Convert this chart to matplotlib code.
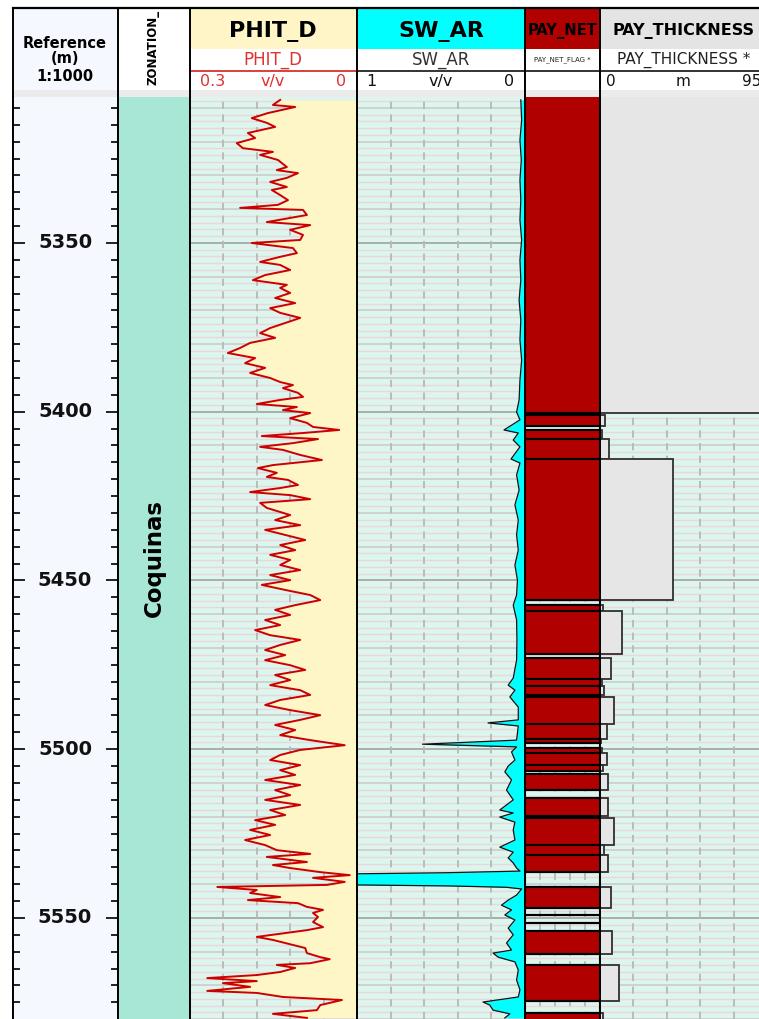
import numpy as np
import matplotlib
matplotlib.use("Agg")
import matplotlib.pyplot as plt
from matplotlib.patches import Rectangle

plt.rcParams['font.family'] = ['DejaVu Sans']

# ---------------- log data ----------------
phit_depth = [5307.6, 5309.1, 5309.7, 5311.5, 5313.0, 5314.4, 5315.6, 5317.4, 5318.9, 5320.4,
              5321.9, 5323.0, 5323.9, 5325.4, 5327.5, 5328.4, 5329.3, 5330.7, 5331.9, 5333.4,
              5334.3, 5335.8, 5337.3, 5338.7, 5339.6, 5340.2, 5341.7, 5343.8, 5344.7, 5346.1,
              5347.6, 5349.1, 5350.0, 5351.5, 5353.0, 5354.1, 5355.6, 5356.5, 5358.0, 5359.5,
              5361.0, 5362.4, 5363.3, 5364.8, 5366.3, 5367.8, 5369.3, 5370.7, 5372.2, 5373.7,
              5375.2, 5376.7, 5378.1, 5379.6, 5381.1, 5382.6, 5384.1, 5385.6, 5387.0, 5388.5,
              5390.0, 5391.2, 5392.1, 5393.0, 5394.4, 5395.6, 5396.5, 5397.7, 5398.6, 5399.5,
              5400.4, 5401.9, 5403.3, 5404.5, 5405.4, 5406.3, 5407.2, 5408.1, 5409.3, 5410.4,
              5411.3, 5412.8, 5414.3, 5415.8, 5416.7, 5418.1, 5419.3, 5420.2, 5421.7, 5422.6,
              5423.8, 5424.7, 5425.9, 5427.0, 5428.5, 5430.6, 5432.1, 5433.6, 5435.0, 5436.5,
              5438.0, 5439.5, 5441.0, 5442.4, 5443.9, 5445.4, 5446.9, 5448.4, 5449.9, 5451.3,
              5452.8, 5454.3, 5455.8, 5457.3, 5458.7, 5460.2, 5461.7, 5463.2, 5464.7, 5466.2,
              5467.6, 5469.1, 5470.6, 5472.1, 5473.6, 5475.1, 5476.5, 5478.0, 5479.5, 5481.0,
              5482.5, 5483.9, 5485.4, 5486.9, 5488.4, 5489.9, 5491.3, 5492.8, 5494.3, 5495.8,
              5497.3, 5498.8, 5500.2, 5501.7, 5503.2, 5504.7, 5506.2, 5507.6, 5509.1, 5510.6,
              5512.1, 5513.6, 5515.0, 5516.5, 5518.0, 5519.5, 5521.0, 5522.4, 5523.9, 5525.4,
              5526.9, 5528.4, 5529.9, 5531.0, 5531.9, 5533.4, 5534.3, 5535.2, 5536.4, 5537.3,
              5538.1, 5539.3, 5540.2, 5540.8, 5541.7, 5542.6, 5543.8, 5544.7, 5545.6, 5546.7,
              5547.6, 5548.5, 5549.7, 5551.2, 5552.7, 5553.6, 5554.4, 5555.6, 5556.5, 5558.0,
              5558.9, 5560.4, 5561.6, 5562.2, 5563.4, 5563.9, 5564.8, 5566.0, 5566.9, 5567.8,
              5568.7, 5569.3, 5570.4, 5571.6, 5572.2, 5573.4, 5574.3, 5575.8, 5577.3, 5578.4,
              5579.6]
phit = [0.138, 0.151, 0.111, 0.160, 0.189, 0.162, 0.147, 0.196, 0.183, 0.216,
        0.205, 0.151, 0.174, 0.142, 0.126, 0.144, 0.106, 0.126, 0.156, 0.126,
        0.153, 0.138, 0.124, 0.142, 0.210, 0.097, 0.090, 0.162, 0.084, 0.120,
        0.097, 0.102, 0.189, 0.115, 0.108, 0.138, 0.174, 0.138, 0.120, 0.165,
        0.187, 0.126, 0.138, 0.120, 0.147, 0.111, 0.156, 0.138, 0.102, 0.129,
        0.156, 0.174, 0.147, 0.192, 0.210, 0.232, 0.183, 0.201, 0.165, 0.192,
        0.156, 0.138, 0.115, 0.133, 0.106, 0.097, 0.138, 0.180, 0.108, 0.133,
        0.084, 0.120, 0.090, 0.079, 0.032, 0.097, 0.171, 0.070, 0.115, 0.174,
        0.133, 0.102, 0.063, 0.151, 0.178, 0.144, 0.162, 0.124, 0.106, 0.138,
        0.192, 0.120, 0.084, 0.174, 0.162, 0.120, 0.147, 0.102, 0.165, 0.129,
        0.093, 0.138, 0.111, 0.156, 0.120, 0.138, 0.102, 0.156, 0.120, 0.171,
        0.129, 0.084, 0.066, 0.111, 0.147, 0.120, 0.165, 0.138, 0.183, 0.156,
        0.102, 0.138, 0.165, 0.129, 0.165, 0.120, 0.093, 0.147, 0.120, 0.156,
        0.102, 0.084, 0.138, 0.165, 0.120, 0.066, 0.102, 0.147, 0.111, 0.138,
        0.084, 0.022, 0.102, 0.138, 0.156, 0.102, 0.138, 0.111, 0.165, 0.102,
        0.147, 0.120, 0.165, 0.102, 0.156, 0.129, 0.183, 0.147, 0.192, 0.156,
        0.201, 0.165, 0.144, 0.084, 0.162, 0.090, 0.151, 0.120, 0.066, 0.013,
        0.079, 0.022, 0.054, 0.251, 0.180, 0.192, 0.138, 0.196, 0.106, 0.090,
        0.061, 0.079, 0.070, 0.079, 0.061, 0.090, 0.126, 0.180, 0.151, 0.115,
        0.093, 0.090, 0.066, 0.049, 0.084, 0.144, 0.111, 0.138, 0.180, 0.269,
        0.180, 0.241, 0.192, 0.269, 0.180, 0.133, 0.027, 0.066, 0.072, 0.151,
        0.090]

sw_depth = [5307.6, 5313.6, 5319.5, 5325.4, 5331.3, 5337.3, 5343.2, 5349.1, 5355.0, 5361.0,
            5366.9, 5372.8, 5378.7, 5384.7, 5390.6, 5396.5, 5400.1, 5402.4, 5405.4, 5406.3,
            5408.4, 5410.4, 5414.0, 5415.2, 5418.7, 5423.2, 5427.6, 5432.1, 5436.5, 5441.0,
            5445.4, 5449.9, 5454.3, 5457.3, 5461.7, 5467.6, 5473.6, 5478.9, 5481.0, 5482.5,
            5484.5, 5487.5, 5491.3, 5492.2, 5493.1, 5497.3, 5498.5, 5499.3, 5500.8, 5503.2,
            5505.0, 5506.7, 5509.1, 5512.1, 5515.0, 5518.0, 5518.9, 5520.1, 5521.6, 5523.9,
            5526.9, 5529.0, 5530.5, 5532.2, 5533.7, 5535.2, 5536.1, 5536.6, 5536.9, 5540.2,
            5540.5, 5540.9, 5541.4, 5543.2, 5544.7, 5546.2, 5547.6, 5549.1, 5550.6, 5553.0,
            5555.0, 5557.4, 5559.5, 5560.4, 5561.6, 5563.0, 5565.4, 5568.4, 5571.3, 5573.4,
            5574.9, 5575.8, 5577.3, 5578.4, 5579.6]
sw = [0.025, 0.020, 0.030, 0.022, 0.030, 0.025, 0.030, 0.020, 0.030, 0.025,
      0.035, 0.025, 0.030, 0.020, 0.030, 0.035, 0.050, 0.030, 0.125, 0.040,
      0.070, 0.030, 0.083, 0.030, 0.050, 0.035, 0.060, 0.040, 0.050, 0.040,
      0.060, 0.045, 0.050, 0.070, 0.050, 0.048, 0.050, 0.070, 0.100, 0.060,
      0.090, 0.040, 0.040, 0.220, 0.040, 0.050, 0.610, 0.050, 0.080, 0.060,
      0.100, 0.120, 0.080, 0.110, 0.070, 0.150, 0.070, 0.150, 0.060, 0.070,
      0.060, 0.150, 0.070, 0.100, 0.070, 0.050, 0.030, 0.480, 1.000, 1.000,
      0.450, 0.110, 0.020, 0.050, 0.100, 0.140, 0.080, 0.120, 0.060, 0.100,
      0.070, 0.110, 0.080, 0.190, 0.160, 0.060, 0.040, 0.050, 0.030, 0.040,
      0.250, 0.210, 0.190, 0.090, 0.120]

pay_top = [5300.0, 5401.1, 5404.1, 5405.4, 5408.0, 5414.1, 5455.8, 5457.3, 5459.0, 5471.8,
           5473.0, 5479.3, 5481.3, 5483.9, 5484.4, 5492.5, 5497.1, 5498.2, 5499.6, 5501.1,
           5504.7, 5506.4, 5507.4, 5512.1, 5514.5, 5519.8, 5520.5, 5528.4, 5531.3, 5536.3,
           5540.9, 5547.1, 5549.1, 5551.5, 5553.9, 5560.7, 5563.9, 5574.5, 5578.2]
pay_base = [5400.5, 5404.1, 5405.4, 5408.0, 5414.1, 5455.8, 5457.3, 5459.0, 5471.8, 5473.0,
            5479.3, 5481.3, 5483.9, 5484.4, 5492.5, 5497.1, 5498.2, 5499.6, 5501.1, 5504.7,
            5506.4, 5507.4, 5512.1, 5514.5, 5519.8, 5520.5, 5528.4, 5531.3, 5536.3, 5540.9,
            5547.1, 5549.1, 5551.5, 5553.9, 5560.7, 5563.9, 5574.5, 5578.2, 5585.0]
pay_flag = [1, 1, 0, 1, 1, 1, 0, 1, 1, 0,
            1, 1, 1, 0, 1, 1, 1, 0, 1, 1,
            1, 0, 1, 0, 1, 0, 1, 1, 1, 0,
            1, 0, 0, 0, 1, 0, 1, 0, 1]
pay_thickness = [95.0, 3.0, 0.0, 1.4, 5.3, 41.5, 0.0, 1.5, 12.7, 0.0,
                 6.3, 1.0, 2.5, 0.0, 8.0, 4.2, 0.8, 0.0, 1.0, 3.7,
                 1.5, 0.0, 4.7, 0.0, 4.7, 0.0, 8.0, 2.3, 4.7, 0.0,
                 6.2, 0.0, 0.0, 0.0, 6.8, 0.0, 10.6, 0.0, 1.5]

zone_name = "Coquinas"
depth_labels = [5350, 5400, 5450, 5500, 5550]

# ---------------- layout (pixels) ----------------
W, H = 759, 1019
fig = plt.figure(figsize=(W / 100, H / 100), dpi=100)
fig.patch.set_facecolor('white')

D_TOP = 5350 - 146 / 3.375
D_BOT = 5350 + 776 / 3.375
Y_TRACK = 97

X_REF = (13, 118)
X_ZONE = (118, 190)
X_PHIT = (190, 357)
X_SW = (357, 525)
X_PAY = (525, 600)
X_THK = (600, 767)

MINT = '#dcf5ed'


def px_axes(x0, y0, x1, y1, **kw):
    return fig.add_axes([x0 / W, 1 - y1 / H, (x1 - x0) / W, (y1 - y0) / H], **kw)


# header / background canvas
bg = px_axes(0, 0, W, H)
bg.set_xlim(0, W)
bg.set_ylim(H, 0)
bg.axis('off')


def cell(x0, x1, y0, y1, color):
    bg.add_patch(Rectangle((x0, y0), x1 - x0, y1 - y0, facecolor=color, edgecolor='none'))


# title row backgrounds
cell(*X_REF, 8, 90, '#f5f8fe')
cell(*X_PHIT, 8, 49, '#fff5c6')
cell(*X_SW, 8, 49, '#00ffff')
cell(*X_PAY, 8, 49, '#b00000')
cell(X_THK[0], W, 8, 49, '#e4e4e4')
cell(13, W, 90, 97, '#ebebeb')

# header lines
bg.plot([13, W], [8, 8], color='black', lw=1.6)
bg.plot([X_PHIT[0], X_PHIT[1]], [70.5, 70.5], color='#d84040', lw=1.4)
bg.plot([X_SW[0], W], [70.5, 70.5], color='#333333', lw=1.4)
for xv in (13, 118, 190, 357, 525, 600):
    bg.plot([xv, xv], [8, H], color='black', lw=1.4, zorder=5)

# header texts
bg.text(65, 43, 'Reference', ha='center', va='center', fontsize=10.5, fontweight='bold')
bg.text(65, 58, '(m)', ha='center', va='center', fontsize=10.5, fontweight='bold')
bg.text(65, 76, '1:1000', ha='center', va='center', fontsize=10.5, fontweight='bold')
zt = bg.text(153, 47, 'ZONATION_', ha='center', va='center', fontsize=8.5, fontweight='bold',
             rotation=90)
zt.set_clip_path(Rectangle((118, 8), 72, 82, transform=bg.transData))

bg.text(273, 31, 'PHIT_D', ha='center', va='center', fontsize=16, fontweight='bold')
bg.text(273, 60, 'PHIT_D', ha='center', va='center', fontsize=12, color='#e03030')
bg.text(200, 81, '0.3', ha='left', va='center', fontsize=11.5, color='#e03030')
bg.text(273, 81, 'v/v', ha='center', va='center', fontsize=11.5, color='#e03030')
bg.text(346, 81, '0', ha='right', va='center', fontsize=11.5, color='#e03030')

bg.text(441, 31, 'SW_AR', ha='center', va='center', fontsize=16, fontweight='bold')
bg.text(441, 60, 'SW_AR', ha='center', va='center', fontsize=12, color='#333333')
bg.text(366, 81, '1', ha='left', va='center', fontsize=11.5, color='#111111')
bg.text(441, 81, 'v/v', ha='center', va='center', fontsize=11.5, color='#111111')
bg.text(514, 81, '0', ha='right', va='center', fontsize=11.5, color='#111111')

bg.text(562.5, 31, 'PAY_NET', ha='center', va='center', fontsize=10.5, fontweight='bold')
bg.text(562.5, 60, 'PAY_NET_FLAG *', ha='center', va='center', fontsize=5, color='#222222')

bg.text(683.5, 31, 'PAY_THICKNESS', ha='center', va='center', fontsize=11.5, fontweight='bold')
bg.text(683.5, 60, 'PAY_THICKNESS *', ha='center', va='center', fontsize=11, color='#222222')
bg.text(606, 81, '0', ha='left', va='center', fontsize=11, color='#111111')
bg.text(683.5, 81, 'm', ha='center', va='center', fontsize=11, color='#111111')
bg.text(761, 81, '95', ha='right', va='center', fontsize=11, color='#111111')


# ---------------- tracks ----------------
def track(xr, xlim, face):
    ax = px_axes(xr[0], Y_TRACK, xr[1], H)
    ax.set_xlim(*xlim)
    ax.set_ylim(D_BOT, D_TOP)
    ax.set_facecolor(face)
    ax.set_xticks([])
    ax.set_yticks([])
    for s in ('top', 'bottom'):
        ax.spines[s].set_visible(False)
    for s in ('left', 'right'):
        ax.spines[s].set_color('black')
        ax.spines[s].set_linewidth(1.4)
    return ax


def grid(ax, xlim):
    for d in range(5308, 5581, 2):
        if d % 50 == 0:
            c, lw = '#a8a8a8', 1.3
        elif d % 10 == 0:
            c, lw = '#cfcfcf', 1.3
        else:
            c, lw = '#ead6dc', 1.0
        ax.axhline(d, color=c, lw=lw, zorder=0.5)
    for k in range(1, 5):
        xv = xlim[0] + (xlim[1] - xlim[0]) * k / 5
        ax.axvline(xv, color='#b8b8b8', lw=1.3, ls=(0, (4, 3)), zorder=0.6)


# depth reference track
ax_ref = track(X_REF, (0, 105), '#f5f8fe')
for d in range(5310, 5580, 5):
    L = 11 if d % 50 == 0 else 6
    ax_ref.plot([0, L], [d, d], color='#222222', lw=1.4)
    ax_ref.plot([105 - L, 105], [d, d], color='#222222', lw=1.4)
for d in depth_labels:
    ax_ref.text(52, d, str(d), ha='center', va='center', fontsize=14, fontweight='bold',
                color='#111111')

# zonation track
ax_zone = track(X_ZONE, (0, 1), '#a8e6d6')
ax_zone.text(0.5, 0.5, zone_name, transform=ax_zone.transAxes, rotation=90,
             ha='center', va='center', fontsize=16.5, fontweight='bold')

# PHIT_D track: porosity curve with shading towards zero
ax_phit = track(X_PHIT, (0.3, 0.0), MINT)
grid(ax_phit, (0.3, 0.0))
ax_phit.fill_betweenx(phit_depth, phit, 0.0, color='#fff6c8', zorder=1, lw=0)
ax_phit.plot(phit, phit_depth, color='#cc0000', lw=1.4, zorder=3)

# SW_AR track: water saturation with cyan shading
ax_sw = track(X_SW, (1.0, 0.0), MINT)
grid(ax_sw, (1.0, 0.0))
ax_sw.fill_betweenx(sw_depth, sw, 0.0, color='#00ffff', zorder=1, lw=0)
ax_sw.plot(sw, sw_depth, color='#111111', lw=0.9, zorder=3)

# PAY_NET track
ax_pay = track(X_PAY, (0, 1), MINT)
grid(ax_pay, (0, 1))
for t, b, f in zip(pay_top, pay_base, pay_flag):
    ax_pay.add_patch(Rectangle((0, t), 1, b - t, facecolor='#b00000' if f else 'none',
                               edgecolor='black', lw=1.5, zorder=2))

# PAY_THICKNESS track
ax_thk = track(X_THK, (0, 95), MINT)
grid(ax_thk, (0, 95))
for t, b, f, th in zip(pay_top, pay_base, pay_flag, pay_thickness):
    if f:
        ax_thk.add_patch(Rectangle((0, t), th, b - t, facecolor='#e6e6e6',
                                   edgecolor='#303030', lw=1.3, zorder=2))

fig.savefig('out.png', dpi=100)
